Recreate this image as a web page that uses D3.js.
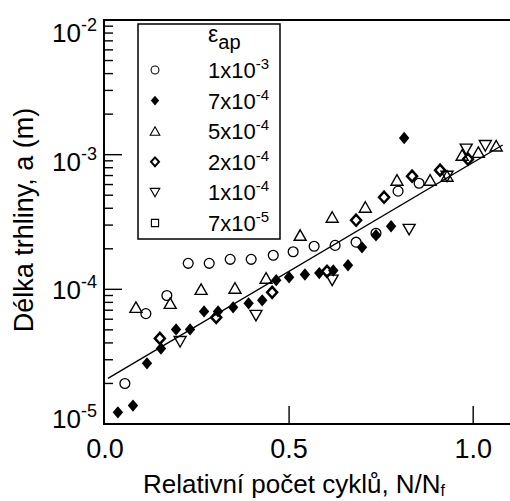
<!DOCTYPE html>
<meta charset="utf-8">
<style>
body { margin: 0; background: #fff; }
svg { display: block; font-family: "Liberation Sans", Arial, sans-serif; }
</style>
<body>
<script src="https://d3js.org/d3.v7.min.js"></script>
<script>

// strain amplitude series: [N/Nf, a (m)]
var s1e3 = [[0.054, 2.0e-5], [0.111, 6.6e-5], [0.168, 9.0e-5], [0.226, 1.56e-4], [0.283, 1.56e-4],
  [0.340, 1.67e-4], [0.397, 1.67e-4], [0.457, 1.79e-4], [0.511, 1.90e-4], [0.568, 2.09e-4],
  [0.625, 2.12e-4], [0.682, 2.24e-4], [0.736, 2.61e-4], [0.796, 5.36e-4], [0.853, 6.14e-4]];
var s7e4 = [[0.035, 1.22e-5], [0.076, 1.37e-5], [0.114, 2.82e-5], [0.152, 3.64e-5], [0.193, 5.04e-5],
  [0.231, 5.04e-5], [0.269, 6.86e-5], [0.307, 6.86e-5], [0.348, 7.35e-5], [0.390, 7.87e-5],
  [0.427, 8.28e-5], [0.465, 1.17e-4], [0.500, 1.23e-4], [0.543, 1.29e-4], [0.582, 1.32e-4],
  [0.620, 1.38e-4], [0.660, 1.51e-4], [0.698, 2.05e-4], [0.736, 2.52e-4], [0.777, 2.94e-4],
  [0.8125, 1.33e-3]];
var s5e4 = [[0.084, 7.35e-5], [0.177, 7.87e-5], [0.261, 1.0e-4], [0.353, 1.02e-4], [0.4375, 1.21e-4],
  [0.530, 2.52e-4], [0.617, 3.43e-4], [0.707, 4.07e-4], [0.793, 6.46e-4], [0.883, 6.46e-4],
  [0.929, 6.92e-4], [0.970, 9.91e-4], [1.014, 1.04e-3], [1.0625, 1.16e-3]];
var s2e4 = [[0.149, 4.32e-5], [0.302, 6.19e-5], [0.454, 9.5e-5], [0.603, 1.36e-4], [0.682, 3.26e-4],
  [0.758, 4.83e-4], [0.834, 6.92e-4], [0.910, 7.67e-4], [0.986, 9.26e-4]];
var s1e4 = [[0.204, 4.1e-5], [0.410, 6.41e-5], [0.617, 1.17e-4], [0.826, 2.79e-4], [0.929, 6.92e-4],
  [0.981, 1.10e-3], [1.033, 1.17e-3]];
var s7e5 = [];

// fitted line end points
var fit = [[0.008, 2.18e-5], [1.08, 1.18e-3]];

var legendLabels = [["1x10", "-3"], ["7x10", "-4"], ["5x10", "-4"], ["2x10", "-4"], ["1x10", "-4"], ["7x10", "-5"]];
var xTicks = [0.0, 0.5, 1.0];
var yDecades = [1e-5, 1e-4, 1e-3, 1e-2];

var width = 510, height = 501;
var L = 104, R = 510, T = 20, B = 424;

var x = d3.scaleLinear().domain([0, 1.1]).range([105, 510]);
var y = d3.scaleLog().domain([1e-5, 1e-2]).range([B, T]);
// tick labels sit a bit off the ticks in the original
var yLab = d3.scaleLog().domain([1e-5, 1e-2]).range([428, 42]);

var svg = d3.select("body").append("svg")
  .attr("width", width).attr("height", height);

function sym(type) {
  if (type == "circle") return d3.symbol().type(d3.symbolCircle).size(76)();
  if (type == "diamond") return "M0,-6.2L5.2,0L0,6.2L-5.2,0Z";
  if (type == "odiamond") return "M0,-5.5L5,0L0,5.5L-5,0Z";
  if (type == "tri") return "M0,-5.5L6,5L-6,5Z";
  if (type == "dtri") return "M0,5.5L6,-5L-6,-5Z";
  if (type == "square") return "M-4.5,-4.5H4.5V4.5H-4.5Z";
}

var series = [
  {data: s1e3, type: "circle", fill: "none", sw: 1.3},
  {data: s7e4, type: "diamond", fill: "#000", sw: 0},
  {data: s5e4, type: "tri", fill: "none", sw: 1.4},
  {data: s2e4, type: "odiamond", fill: "none", sw: 2.5},
  {data: s1e4, type: "dtri", fill: "none", sw: 1.4},
  {data: s7e5, type: "square", fill: "none", sw: 1.4}
];

// fit line
svg.append("path")
  .attr("d", d3.line().x(d => x(d[0])).y(d => y(d[1]))(fit))
  .attr("fill", "none").attr("stroke", "#000").attr("stroke-width", 1.4);

series.forEach(function(s) {
  svg.append("g").selectAll("path")
    .data(s.data).enter().append("path")
    .attr("transform", d => "translate(" + x(d[0]) + "," + y(d[1]) + ")")
    .attr("d", sym(s.type))
    .attr("fill", s.fill)
    .attr("stroke", "#000")
    .attr("stroke-width", s.sw);
});

// frame
svg.append("path")
  .attr("d", "M" + R + "," + T + "H" + L + "V" + B + "H" + R)
  .attr("fill", "none").attr("stroke", "#000").attr("stroke-width", 2);

// y ticks
var minor = [];
yDecades.forEach(function(d, i) {
  if (i < yDecades.length - 1) for (var k = 2; k <= 9; k++) minor.push(d * k);
});
svg.append("g").selectAll("line").data(minor).enter().append("line")
  .attr("x1", L).attr("x2", L + 9)
  .attr("y1", d => y(d)).attr("y2", d => y(d))
  .attr("stroke", "#000").attr("stroke-width", 1.4);
svg.append("g").selectAll("line").data(yDecades).enter().append("line")
  .attr("x1", L).attr("x2", L + 18)
  .attr("y1", d => y(d)).attr("y2", d => y(d))
  .attr("stroke", "#000").attr("stroke-width", 1.4);

var yl = svg.append("g").selectAll("text").data(yDecades).enter().append("text")
  .attr("x", 97).attr("y", d => yLab(d))
  .attr("text-anchor", "end").attr("font-size", 26);
yl.append("tspan").text("10");
yl.append("tspan").attr("font-size", 18).attr("dy", -11)
  .text(d => "-" + Math.round(-Math.log10(d)));

// x ticks
svg.append("g").selectAll("line").data(xTicks.slice(1)).enter().append("line")
  .attr("x1", d => x(d)).attr("x2", d => x(d))
  .attr("y1", B).attr("y2", B - 18)
  .attr("stroke", "#000").attr("stroke-width", 1.4);
svg.append("g").selectAll("text").data(xTicks).enter().append("text")
  .attr("x", d => x(d)).attr("y", 458)
  .attr("text-anchor", "middle").attr("font-size", 27)
  .text(d => d.toFixed(1));

// axis titles
var xt = svg.append("text").attr("x", 294).attr("y", 493)
  .attr("text-anchor", "middle").attr("font-size", 26);
xt.append("tspan").text("Relativní počet cyklů, N/N");
xt.append("tspan").attr("font-size", 16).attr("dy", 3).text("f");

svg.append("text")
  .attr("transform", "translate(33,220) rotate(-90)")
  .attr("text-anchor", "middle").attr("font-size", 27)
  .text("Délka trhliny, a (m)");

// legend
var lg = svg.append("g");
lg.append("rect").attr("x", 138).attr("y", 24).attr("width", 142).attr("height", 215)
  .attr("fill", "#fff").attr("stroke", "#000").attr("stroke-width", 1.5);
var lt = lg.append("text").attr("x", 208).attr("y", 42).attr("font-size", 23);
lt.append("tspan").text("ε");
lt.append("tspan").attr("font-size", 20).attr("dy", 7).text("ap");

series.forEach(function(s, i) {
  var ry = 70 + i * 30.6;
  lg.append("path")
    .attr("transform", "translate(155," + ry + ") scale(0.8)")
    .attr("d", sym(s.type))
    .attr("fill", s.fill).attr("stroke", "#000").attr("stroke-width", s.sw);
  var t = lg.append("text").attr("x", 208).attr("y", ry + 8).attr("font-size", 22);
  t.append("tspan").text(legendLabels[i][0]);
  t.append("tspan").attr("font-size", 15).attr("dy", -9).text(legendLabels[i][1]);
});

</script>
</body>
